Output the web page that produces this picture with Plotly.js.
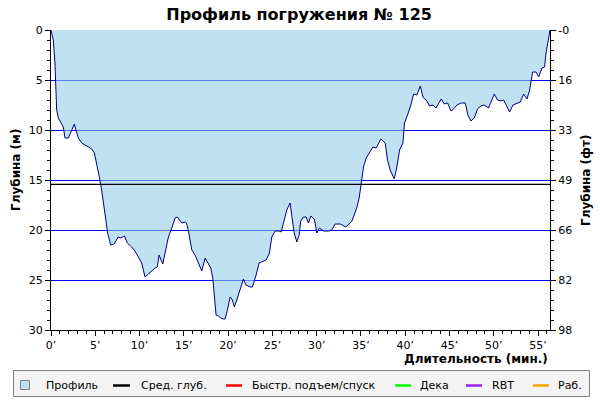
<!DOCTYPE html>
<html>
<head>
<meta charset="utf-8">
<script src="https://cdn.plot.ly/plotly-3.0.1.min.js"></script>
<style>html,body{margin:0;padding:0;background:#fff;}#chart{width:600px;height:400px;}</style>
</head>
<body>
<div id="chart"></div>
<script>
// ---- data ----
const timeMin = [0,0.26,0.45,0.56,0.64,0.83,1.1,1.39,1.58,1.96,2.34,2.64,2.82,3.09,3.47,4.03,4.6,4.9,5.16,5.46,5.72,5.99,6.21,6.4,6.74,7.12,7.6,7.9,8.29,8.62,9.11,9.4,9.87,10.24,10.62,11.0,11.75,12.01,12.2,12.62,12.88,13.26,13.64,14.01,14.27,14.77,15.14,15.3,15.52,15.9,16.27,16.65,17.03,17.4,17.77,18.04,18.27,18.45,18.64,18.9,19.17,19.47,19.66,19.92,20.23,20.49,20.7,20.98,21.36,21.73,22.0,22.49,22.75,22.94,23.16,23.5,23.8,24.29,24.67,24.93,25.31,25.76,25.99,26.25,26.63,27.0,27.19,27.46,27.76,28.02,28.2,28.5,28.81,29.07,29.34,29.72,29.83,30.02,30.32,30.77,31.34,31.71,32.09,32.66,33.3,33.6,33.98,34.24,34.55,34.8,35.1,35.29,35.59,35.93,36.35,36.72,37.25,37.74,38.0,38.3,38.76,39.06,39.36,39.74,39.92,40.26,40.64,40.94,41.32,41.7,42.0,42.45,42.75,43.13,43.47,44.07,44.41,44.79,45.16,45.46,45.84,46.29,46.78,47.08,47.42,47.8,48.17,48.55,48.93,49.41,50.06,50.43,50.81,51.11,51.41,51.79,52.17,52.62,52.99,53.37,53.75,54.05,54.39,54.77,55.07,55.44,55.74,55.9,56.08,56.27,56.35];
const depthM = [0,1.0,3.3,6.7,8.0,8.8,9.3,9.7,10.8,10.8,10.0,9.4,10.0,10.8,11.3,11.6,11.9,12.3,13.3,14.7,16.0,17.7,19.3,20.3,21.5,21.4,20.7,20.8,20.6,21.3,21.7,22.0,22.7,23.3,24.7,24.4,23.8,23.7,22.5,23.4,22.3,20.7,19.8,18.8,18.7,19.3,19.2,19.3,20.1,22.0,22.5,23.3,24.1,22.8,23.3,23.8,24.8,26.7,28.5,28.6,28.8,28.9,28.9,28.0,26.7,27.0,27.7,27.0,26.0,24.9,25.5,25.7,25.7,25.0,24.5,23.3,23.2,23.0,22.3,20.7,20.1,20.1,20.2,19.2,18.0,17.3,18.7,20.3,21.2,20.5,19.1,18.7,18.7,19.3,18.6,18.9,19.3,20.3,19.8,20.1,20.1,20.0,19.4,19.4,19.7,19.4,19.1,18.5,17.7,16.8,15.0,13.7,12.8,12.3,11.7,11.8,10.9,11.3,13.0,14.0,14.9,13.7,12.0,11.3,9.3,8.5,7.5,6.4,6.5,5.6,6.7,7.1,7.6,7.5,7.8,6.9,7.4,7.3,8.1,7.9,7.5,7.3,7.3,8.5,9.1,8.8,7.9,7.6,7.5,7.8,6.4,7.0,7.1,7.0,7.6,8.2,7.5,7.3,7.2,6.4,6.9,6.0,4.2,4.2,4.7,3.8,3.7,2.3,1.2,0.5,0];
const avgDepthM = 15.43;
const xTickVals = [0,5,10,15,20,25,30,35,40,45,50,55];
const xTickText = ["0’","5’","10’","15’","20’","25’","30’","35’","40’","45’","50’","55’"];
const yTickVals = [0,5,10,15,20,25,30];
const yTickText = ["0","5","10","15","20","25","30"];
const y2TickText = ["-0","16","33","49","66","82","98"];
const legendLabels = ["Профиль","Сред. глуб.","Быстр. подъем/спуск","Дека","RBT","Раб."];
const legendColors = ["#c0e0f0","#000000","#ff0000","#00ff00","#a020f0","#ffa500"];

// ---- layout helpers (pixel -> paper) ----
const W = 600, H = 400, ML = 51, MR = 50, MT = 30, MB = 70;
const PW = W - ML - MR, PH = H - MT - MB;
const px = x => (x - ML) / PW;
const py = y => (H - MB - y) / PH;
const font = 'DejaVu Sans, Verdana, sans-serif';

const xMax = timeMin[timeMin.length - 1];

const traces = [
  {
    x: timeMin, y: depthM, type: 'scatter', mode: 'lines',
    fill: 'tozeroy', fillcolor: 'rgba(150,205,233,0.6)',
    line: {color: '#000080', width: 1},
    name: legendLabels[0], showlegend: false, hoverinfo: 'skip'
  },
  {
    x: [0, xMax], y: [avgDepthM, avgDepthM], type: 'scatter', mode: 'lines',
    yaxis: 'y2',
    line: {color: '#000000', width: 1.2},
    name: legendLabels[1], showlegend: false, hoverinfo: 'skip'
  }
];

const shapes = [];
const annotations = [];

// legend box
shapes.push({type:'rect', xref:'paper', yref:'paper', x0:px(13.5), x1:px(589.5), y0:py(370.5), y1:py(396.5),
  fillcolor:'#f4f4f4', line:{color:'#808080', width:1}, layer:'above'});
const legSym = [[20.5,29.5],[113,130],[226,242],[395,411],[466,482],[533,549]];
const legTxt = [44,139,250,418,490,556];
legendLabels.forEach((lab, i) => {
  if (i === 0) {
    shapes.push({type:'rect', xref:'paper', yref:'paper', x0:px(legSym[0][0]), x1:px(legSym[0][1]), y0:py(380.5), y1:py(389.5),
      fillcolor:legendColors[0], line:{color:'#808080', width:1}, layer:'above'});
  } else {
    shapes.push({type:'line', xref:'paper', yref:'paper', x0:px(legSym[i][0]), x1:px(legSym[i][1]), y0:py(385.5), y1:py(385.5),
      line:{color:legendColors[i], width:2.5}, layer:'above'});
  }
  annotations.push({text:lab, xref:'paper', yref:'paper', x:px(legTxt[i]), y:py(385.5), xanchor:'left', yanchor:'middle',
    showarrow:false, font:{family:font, size:11, color:'#000'}});
});

// axis titles
annotations.push({text:'Длительность (мин.)', xref:'paper', yref:'paper', x:px(550), y:py(359), xanchor:'right', yanchor:'middle',
  showarrow:false, font:{family:font, size:12, color:'#000', weight:'bold'}});
annotations.push({text:'Глубина (м)', xref:'paper', yref:'paper', x:px(16), y:py(170), xanchor:'center', yanchor:'middle',
  textangle:-90, showarrow:false, font:{family:font, size:12, color:'#000', weight:'bold'}});
annotations.push({text:'Глубина (фт)', xref:'paper', yref:'paper', x:px(586), y:py(181), xanchor:'center', yanchor:'middle',
  textangle:-90, showarrow:false, font:{family:font, size:12, color:'#000', weight:'bold'}});

const axisCommon = {
  showline: true, linecolor: '#000', linewidth: 1,
  ticks: 'outside', ticklen: 5, tickcolor: '#000', tickwidth: 1,
  tickfont: {family: font, size: 11, color: '#000'},
  zeroline: false, fixedrange: true
};

const layout = {
  width: W, height: H,
  margin: {l: ML, r: MR, t: MT, b: MB, pad: 0},
  paper_bgcolor: '#fff', plot_bgcolor: '#fff',
  showlegend: false,
  title: {text: 'Профиль погружения № 125', x: 0.4985, xanchor: 'center', y: 1 - 14/H, yanchor: 'middle',
    font: {family: font, size: 16, color: '#000', weight: 'bold'}},
  xaxis: Object.assign({}, axisCommon, {
    range: [0, xMax], tickmode: 'array', tickvals: xTickVals, ticktext: xTickText,
    showgrid: false,
    minor: {dtick: 1, ticks: 'outside', ticklen: 3, tickcolor: '#000', showgrid: false}
  }),
  yaxis: Object.assign({}, axisCommon, {
    range: [30, 0], tickmode: 'array', tickvals: yTickVals, ticktext: yTickText,
    showgrid: true, gridcolor: '#0000ff', gridwidth: 1,
    minor: {dtick: 1, ticks: 'outside', ticklen: 3, tickcolor: '#000', showgrid: false}
  }),
  yaxis2: Object.assign({}, axisCommon, {
    overlaying: 'y', side: 'right',
    range: [30, 0], tickmode: 'array', tickvals: yTickVals, ticktext: y2TickText,
    showgrid: false,
    minor: {dtick: 1, ticks: 'outside', ticklen: 3, tickcolor: '#000', showgrid: false}
  }),
  shapes: shapes,
  annotations: annotations
};

Plotly.newPlot('chart', traces, layout, {staticPlot: true, displayModeBar: false});
</script>
</body>
</html>
